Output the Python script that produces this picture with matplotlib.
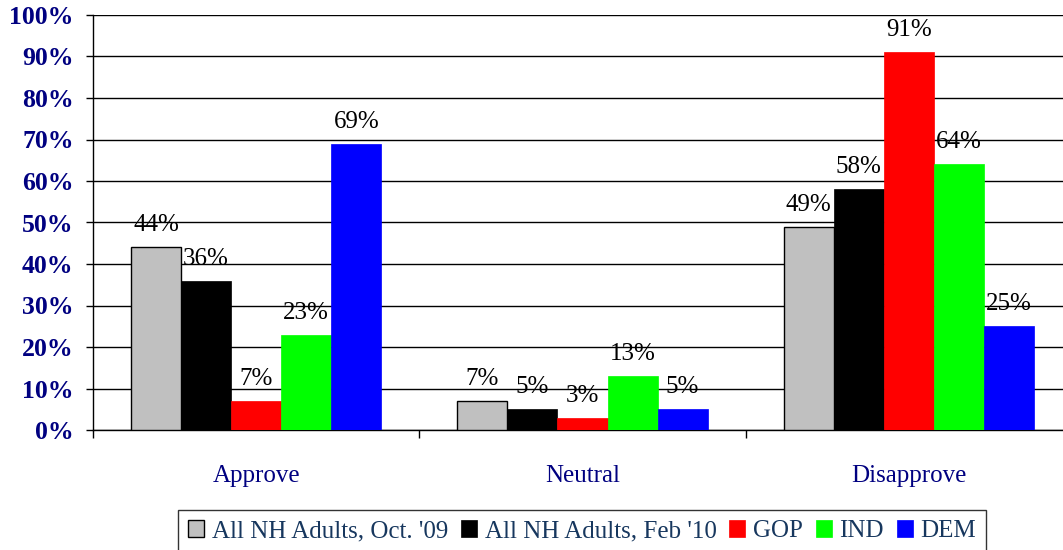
import matplotlib
matplotlib.use('Agg')
import matplotlib.pyplot as plt
import numpy as np

plt.rcParams['font.family'] = ['Liberation Serif', 'DejaVu Serif']

categories = ['Approve', 'Neutral', 'Disapprove']
series_names = ["All NH Adults, Oct. '09", "All NH Adults, Feb '10", 'GOP', 'IND', 'DEM']
oct09 = [44, 7, 49]
feb10 = [36, 5, 58]
gop = [7, 3, 91]
ind = [23, 13, 64]
dem = [69, 5, 25]
series_values = [oct09, feb10, gop, ind, dem]
colors = ['#C0C0C0', '#000000', '#FF0000', '#00FF00', '#0000FF']
edges = ['#000000', '#000000', '#FF0000', '#00FF00', '#0000FF']

navy = '#000080'

fig = plt.figure(figsize=(10.63, 5.5), dpi=100)
ax = fig.add_axes([93 / 1063, 1 - 430 / 550, 979 / 1063, 415 / 550])

x = np.arange(len(categories))
w = 50 / 326
handles = []
for i, (name, vals) in enumerate(zip(series_names, series_values)):
    pos = x + (i - 2) * w
    b = ax.bar(pos, vals, width=w, color=colors[i], edgecolor=edges[i],
               linewidth=1 if i == 0 else 0.5, label=name, zorder=3)
    handles.append(b)
    for px, v in zip(pos, vals):
        ax.annotate('%d%%' % v, (px, v), xytext=(0, 11.5), textcoords='offset points',
                    ha='center', va='baseline', fontsize=18, color='black', zorder=4)

ax.set_xlim(-0.5, 2.5)
ax.set_ylim(0, 100)
ax.set_yticks(range(0, 101, 10))
ax.set_yticklabels(['%d%%' % t for t in range(0, 101, 10)], fontsize=18.5,
                   fontweight='bold', color=navy)
ax.yaxis.grid(True, color='black', linewidth=1, zorder=0)
ax.set_axisbelow(True)
ax.tick_params(axis='y', length=5, width=1, pad=9, color='black')

ax.set_xticks(x)
ax.set_xticklabels(categories, fontsize=18, color=navy)
ax.set_xticks([-0.5, 0.5, 1.5, 2.5], minor=True)
ax.tick_params(axis='x', which='major', length=0, pad=25)
ax.tick_params(axis='x', which='minor', length=6, width=1, color='black')

for s in ['top', 'right']:
    ax.spines[s].set_visible(False)
ax.spines['left'].set_linewidth(1)
ax.spines['bottom'].set_linewidth(1)

leg = fig.legend(handles=handles, loc='upper left', bbox_to_anchor=(178 / 1063, 1 - 510 / 550),
                 ncol=5, frameon=True, fancybox=False, fontsize=18, handlelength=0.64,
                 handleheight=0.64, handletextpad=0.32, columnspacing=0.5, borderpad=0.4,
                 borderaxespad=0)
leg.get_frame().set_edgecolor('black')
leg.get_frame().set_linewidth(1)
for t in leg.get_texts():
    t.set_color('#17375E')

fig.savefig('out.png', dpi=100)
